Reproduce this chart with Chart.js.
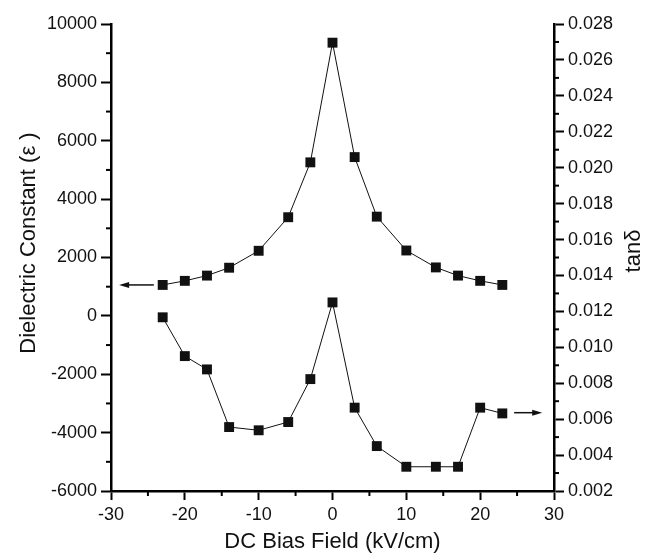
<!DOCTYPE html>
<html>
<head>
<meta charset="utf-8">
<script src="https://cdn.jsdelivr.net/npm/chart.js@4"></script>
<style>
  html, body { margin: 0; padding: 0; background: #fff; }
  #wrap { width: 652px; height: 557px; }
</style>
</head>
<body>
<div id="wrap"><canvas id="myChart" width="652" height="557"></canvas></div>
<script>
// DC bias field (kV/cm)
const fieldValues = [-23, -20, -17, -14, -10, -6, -3, 0, 3, 6, 10, 14, 17, 20, 23];
// dielectric constant, left axis
const epsValues = [1060, 1200, 1380, 1650, 2230, 3380, 5260, 9360, 5440, 3400, 2240, 1660, 1380, 1200, 1060];
// tan delta, right axis
const tanValues = [0.01167, 0.00951, 0.00877, 0.00556, 0.00538, 0.00584, 0.00823, 0.0125,
                   0.00664, 0.0045, 0.00335, 0.00335, 0.00335, 0.00664, 0.00632];
// arrows showing which axis each curve belongs to: [x from, x to, y]
const epsArrow = [-24.2, -28.9, 1060];
const tanArrow = [24.6, 28.4, 0.00636];

const fontFamily = "'Liberation Sans', Arial, Helvetica, sans-serif";

document.addEventListener("DOMContentLoaded", function () {
    function toPoints(ys) {
        return fieldValues.map(function (x, i) { return { x: x, y: ys[i] }; });
    }

    // short minor ticks between the major ones
    const minorTicks = {
        id: 'minorTicks',
        afterDraw: function (chart) {
            const ctx = chart.ctx;
            const area = chart.chartArea;
            ctx.save();
            ctx.strokeStyle = '#000';
            ctx.lineWidth = 2;
            const xs = chart.scales.x;
            for (let v = -25; v <= 25; v += 10) {
                const px = xs.getPixelForValue(v);
                ctx.beginPath();
                ctx.moveTo(px, area.bottom);
                ctx.lineTo(px, area.bottom + 5);
                ctx.stroke();
            }
            const yl = chart.scales.y;
            for (let v = -5000; v <= 9000; v += 2000) {
                const py = yl.getPixelForValue(v);
                ctx.beginPath();
                ctx.moveTo(area.left, py);
                ctx.lineTo(area.left - 5, py);
                ctx.stroke();
            }
            const yr = chart.scales.y2;
            for (let k = 3; k <= 27; k += 2) {
                const py = yr.getPixelForValue(k / 1000);
                ctx.beginPath();
                ctx.moveTo(area.right, py);
                ctx.lineTo(area.right + 5, py);
                ctx.stroke();
            }
            ctx.restore();
        }
    };

    // arrows and the two vertical axis titles
    const extras = {
        id: 'extras',
        afterDatasetsDraw: function (chart) {
            const ctx = chart.ctx;
            const xs = chart.scales.x;
            function arrow(a, yScale) {
                const x0 = xs.getPixelForValue(a[0]);
                const x1 = xs.getPixelForValue(a[1]);
                const y = yScale.getPixelForValue(a[2]);
                const dir = x1 > x0 ? 1 : -1;
                ctx.beginPath();
                ctx.moveTo(x0, y);
                ctx.lineTo(x1 - dir * 8, y);
                ctx.stroke();
                ctx.beginPath();
                ctx.moveTo(x1, y);
                ctx.lineTo(x1 - dir * 10, y - 3);
                ctx.lineTo(x1 - dir * 10, y + 3);
                ctx.closePath();
                ctx.fill();
            }
            function vtitle(text, x, y) {
                ctx.save();
                ctx.translate(x, y);
                ctx.rotate(-Math.PI / 2);
                ctx.fillText(text, 0, 0);
                ctx.restore();
            }
            ctx.save();
            ctx.strokeStyle = '#111';
            ctx.fillStyle = '#111';
            ctx.lineWidth = 1.5;
            arrow(epsArrow, chart.scales.y);
            arrow(tanArrow, chart.scales.y2);

            ctx.font = '22px ' + fontFamily;
            ctx.textAlign = 'center';
            ctx.textBaseline = 'middle';
            vtitle('Dielectric Constant (ε )', 29, 243);
            vtitle('tanδ', 634, 251);
            ctx.restore();
        }
    };

    const config = {
        type: 'line',
        data: {
            datasets: [{
                label: 'Dielectric constant',
                data: toPoints(epsValues),
                yAxisID: 'y',
                borderColor: '#111',
                borderWidth: 1,
                backgroundColor: '#111',
                pointStyle: 'rect',
                pointRadius: 7,
                pointBorderWidth: 0,
                tension: 0
            }, {
                label: 'tan delta',
                data: toPoints(tanValues),
                yAxisID: 'y2',
                borderColor: '#111',
                borderWidth: 1,
                backgroundColor: '#111',
                pointStyle: 'rect',
                pointRadius: 7,
                pointBorderWidth: 0,
                tension: 0
            }]
        },
        options: {
            responsive: false,
            animation: false,
            layout: { padding: { top: 24, left: 0, right: 0, bottom: 0 } },
            plugins: {
                legend: { display: false },
                tooltip: { enabled: false }
            },
            scales: {
                x: {
                    type: 'linear',
                    min: -30,
                    max: 30,
                    afterFit: function (s) { s.height = 66; },
                    ticks: {
                        stepSize: 10,
                        color: '#111',
                        padding: 4,
                        font: { family: fontFamily, size: 18 }
                    },
                    grid: { drawOnChartArea: false, tickLength: 9, tickWidth: 2, tickColor: '#000' },
                    border: { color: '#000', width: 2.5 },
                    title: {
                        display: true,
                        text: 'DC Bias Field (kV/cm)',
                        color: '#111',
                        padding: { top: 0, bottom: 2 },
                        font: { family: fontFamily, size: 22 }
                    }
                },
                y: {
                    position: 'left',
                    min: -6000,
                    max: 10000,
                    afterFit: function (s) { s.width = 111; },
                    ticks: {
                        stepSize: 2000,
                        color: '#111',
                        padding: 4,
                        font: { family: fontFamily, size: 18 },
                        callback: function (v) { return String(v); }
                    },
                    grid: { drawOnChartArea: false, tickLength: 10, tickWidth: 2, tickColor: '#000' },
                    border: { color: '#000', width: 2.5 }
                },
                y2: {
                    position: 'right',
                    min: 0.002,
                    max: 0.028,
                    afterFit: function (s) { s.width = 98; },
                    ticks: {
                        stepSize: 0.002,
                        color: '#111',
                        padding: 4,
                        font: { family: fontFamily, size: 18 },
                        callback: function (v) { return v.toFixed(3); }
                    },
                    grid: { drawOnChartArea: false, tickLength: 10, tickWidth: 2, tickColor: '#000' },
                    border: { color: '#000', width: 2.5 }
                }
            }
        },
        plugins: [minorTicks, extras]
    };

    new Chart(document.getElementById('myChart'), config);
});
</script>
</body>
</html>
